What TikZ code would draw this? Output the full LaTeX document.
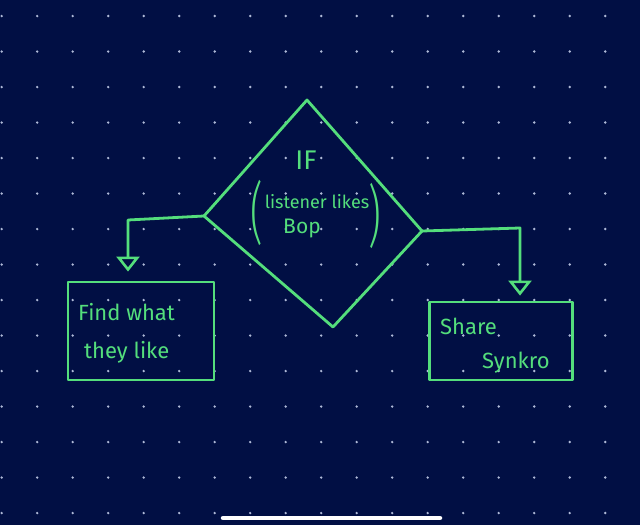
\documentclass[tikz,border=0pt]{standalone}
\usepackage{fontspec}
\setmainfont{Fira Sans}
\newfontfamily\lightfont{Fira Sans}[UprightFont=* Light]
\usetikzlibrary{arrows.meta}
\definecolor{bg}{RGB}{1,15,68}
\definecolor{ink}{RGB}{84,222,124}
\definecolor{gdot}{RGB}{175,185,215}
\begin{document}
\begin{tikzpicture}[x=1pt,y=-1pt,
 pen/.style={draw=ink, line width=2.8pt, line cap=round, line join=round},
 box/.style={pen, rectangle, inner sep=0pt},
 hand/.style={text=ink, inner sep=0pt, font=\fontsize{22}{26}\selectfont},
 paren/.style={text=ink, inner sep=0pt, font=\lightfont\fontsize{56}{60}\selectfont, xscale=0.7, yscale=1.2, transform shape},
 arr/.style={pen, -{Triangle[open,length=15pt,width=23pt,line width=2.6pt]}}]
\fill[bg] (0,0) rectangle (640,525);
\useasboundingbox (0,0) rectangle (640,525);
\foreach \i in {0,...,17}{\foreach \j in {0,...,14}{\fill[gdot] (1.7+35.5*\i,16+35.5*\j) circle[radius=1.3pt];}}
\draw[white, line width=4.5pt, line cap=round] (223,518) -- (440,518);
% decision diamond
\coordinate (dt) at (307,100);
\coordinate (dl) at (204,216);
\coordinate (dr) at (422,231);
\coordinate (db) at (333,327);
\draw[pen] (dt) -- (dr) -- (db) -- (dl) -- cycle;
\node[hand, font=\fontsize{27}{30}\selectfont] (iftxt) at (306,160) {IF};
\node[hand, font=\fontsize{18}{20}\selectfont] (cond) at (317,202) {listener likes};
\node[hand, font=\fontsize{21}{24}\selectfont] (bop) at (302,228) {Bop};
\node[paren] (lp) at (257,213) {(};
\node[paren] (rp) at (375,216) {)};
% boxes
\node[box, minimum width=146pt, minimum height=98pt] (find) at (141,331) {};
\node[hand, anchor=west] (findtxt) at (78,312) {Find what};
\node[hand, anchor=west] (liketxt) at (84,352) {they like};
\node[box, minimum width=143pt, minimum height=78pt] (share) at (501,341) {};
\node[hand, anchor=west] (sharetxt) at (440,326) {Share};
\node[hand, anchor=west] (synkro) at (482,363) {Synkro};
% connectors
\coordinate (lk) at (128,220);
\coordinate (rk) at (520,228);
\draw[arr, shorten >=9pt] (dl) -- (lk) -- (lk |- find.north);
\draw[arr, shorten >=5pt] (dr) -- (rk) -- (rk |- share.north);
\end{tikzpicture}
\end{document}
